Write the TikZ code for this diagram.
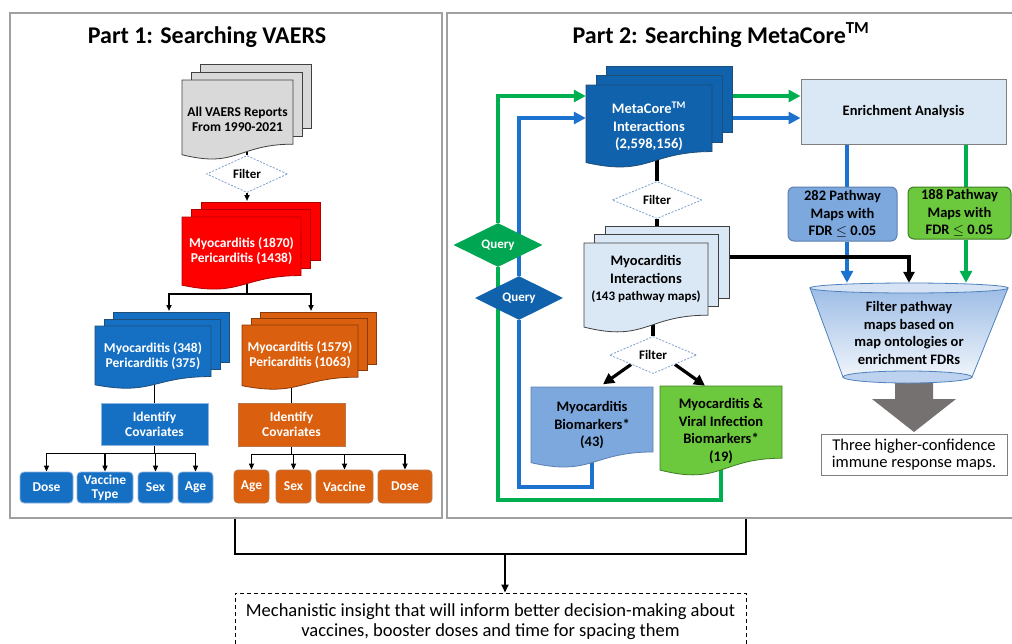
\documentclass[tikz,border=0pt]{standalone}
\usepackage{fontspec}
\setmainfont{Carlito}
\usetikzlibrary{arrows.meta,shapes.geometric,calc}
\pgfdeclarelayer{bg}
\pgfsetlayers{bg,main}
\definecolor{cgray}{HTML}{D9D9D9}
\definecolor{cgrayd}{HTML}{404040}
\definecolor{cred}{HTML}{FF0000}
\definecolor{credd}{HTML}{B00000}
\definecolor{cblue}{HTML}{1570C4}
\definecolor{cblued}{HTML}{1F4E79}
\definecolor{cbluel}{HTML}{8DB4E2}
\definecolor{corange}{HTML}{DA600F}
\definecolor{coranged}{HTML}{8A3A08}
\definecolor{corangel}{HTML}{B8764A}
\definecolor{cmc}{HTML}{0F62AB}
\definecolor{clb}{HTML}{DAE7F5}
\definecolor{cbm}{HTML}{7CA8DD}
\definecolor{cbmd}{HTML}{5B7FAF}
\definecolor{cvb}{HTML}{6CC83C}
\definecolor{cvbd}{HTML}{3E7D26}
\definecolor{cgl}{HTML}{00B050}
\definecolor{cbl}{HTML}{1C72CF}
\definecolor{cgq}{HTML}{00A651}
\definecolor{cfilt}{HTML}{7F9FCC}
\definecolor{cpanel}{HTML}{A0A0A0}
\definecolor{cbox}{HTML}{7F7F7F}
\definecolor{cfunA}{HTML}{9DBDE6}
\definecolor{cfunB}{HTML}{F0F5FB}
\definecolor{cfunE}{HTML}{D5E3F4}
\definecolor{cfunL}{HTML}{4F81BD}
\definecolor{cfunBot}{HTML}{BCD2EE}
\definecolor{cgarrow}{HTML}{767171}
\newcommand{\mydoc}[6]{\filldraw[fill=#5,draw=#6,line width=0.8pt] (#1,#2) -- ({#1+#3},#2) -- ({#1+#3},{#2+0.802*#4}) .. controls ({#1+0.5*#3},{#2+0.802*#4}) and ({#1+0.5*#3},{#2+1.1075*#4}) .. (#1,{#2+0.934*#4}) -- cycle;}
\newcommand{\mystack}[8]{%
 \filldraw[fill=#7,draw=#8,line width=0.8pt] ({#1+2*#5},{#2-2*#6}) rectangle ++(#3,{0.8*#4});
 \filldraw[fill=#7,draw=#8,line width=0.8pt] ({#1+#5},{#2-#6}) rectangle ++(#3,{0.8*#4});
 \mydoc{#1}{#2}{#3}{#4}{#7}{#8}}
\begin{document}
\begin{tikzpicture}[x=1pt,y=-1pt,
 lbl/.style={inner sep=0pt, align=center, font=\fontsize{13.5}{15}\selectfont\bfseries},
 rbl/.style={inner sep=0pt, align=center, font=\fontsize{14.5}{17.5}\selectfont\bfseries},
 titl/.style={inner sep=0pt, font=\fontsize{24}{28}\selectfont\bfseries},
 panel/.style={draw=cpanel, line width=1.5pt, inner sep=0pt},
 filt/.style={diamond, draw=cfilt, dashed, dash pattern=on 2pt off 1.5pt, fill=white, line width=0.8pt, inner sep=0pt, font=\fontsize{13}{15}\selectfont\bfseries},
 query/.style={diamond, inner sep=0pt, text=white, font=\fontsize{13}{15}\selectfont\bfseries},
 bbox/.style={lbl, fill=cblue, draw=cbluel, line width=0.8pt, text=white},
 obox/.style={lbl, fill=corange, draw=corangel, line width=0.8pt, text=white},
 kthin/.style={draw=black, line width=1.5pt},
 kthinarr/.style={kthin, -{Triangle[length=6pt,width=5pt]}},
 kline/.style={draw=black, line width=3.2pt},
 karr/.style={kline, -{Triangle[length=11pt,width=11pt]}},
 gline/.style={draw=cgl, line width=3.2pt},
 garr/.style={gline, -{Triangle[length=12pt,width=12pt]}},
 bline/.style={draw=cbl, line width=3.2pt},
 barr/.style={bline, -{Triangle[length=12pt,width=12pt]}},
 plainbox/.style={draw=cbox, line width=1pt, inner sep=0pt, align=center, font=\fontsize{16.5}{17.5}\selectfont}
]
\useasboundingbox (0,0) rectangle (1012,643);
\begin{pgfonlayer}{bg}\fill[white] (0,0) rectangle (1012,643);\end{pgfonlayer}
% panels and titles
\node[panel, minimum width=432pt, minimum height=505pt] (p1) at (226,265.5) {};
\node[panel, minimum width=593pt, minimum height=505pt] (p2) at (743.5,265.5) {};
\node[titl, anchor=base] (t1) at (207,43) {Part 1: Searching VAERS};
\node[titl, anchor=base] (t2) at (721,43) {Part 2: Searching MetaCore\textsuperscript{TM}};
% ---------- Part 1 ----------
\mystack{182}{80}{111}{80}{9}{8}{cgray}{cgrayd}
\node[lbl, minimum width=111pt, minimum height=80pt] (gray) at (237.5,119) {All VAERS Reports\\From 1990-2021};
\node[filt, minimum width=81pt, minimum height=31pt] (f1) at (247,174) {Filter};
\mystack{182}{217}{119}{73}{9.5}{7.5}{cred}{credd}
\node[lbl, text=white, minimum width=119pt, minimum height=73pt] (red) at (241.5,251.5) {Myocarditis (1870)\\Pericarditis (1438)};
\mystack{95}{326}{116}{63}{9}{7}{cblue}{cblued}
\node[lbl, text=white, minimum width=116pt, minimum height=63pt] (bdoc) at (153,356) {Myocarditis (348)\\Pericarditis (375)};
\mystack{242}{325}{116}{65}{9}{6.5}{corange}{coranged}
\node[lbl, text=white, minimum width=116pt, minimum height=65pt] (odoc) at (300,355.5) {Myocarditis (1579)\\Pericarditis (1063)};
\node[bbox, minimum width=107pt, minimum height=42pt] (bcov) at (154.5,424) {Identify\\Covariates};
\node[obox, minimum width=107pt, minimum height=43pt] (ocov) at (291.5,424.5) {Identify\\Covariates};
\node[bbox, rounded corners=4pt, minimum width=53pt, minimum height=31pt] (d1) at (46.5,487.5) {Dose};
\node[bbox, rounded corners=4pt, minimum width=56pt, minimum height=31pt, font=\fontsize{13.5}{14}\selectfont\bfseries] (d2) at (105,487.5) {Vaccine\\Type};
\node[bbox, rounded corners=4pt, minimum width=35pt, minimum height=31pt] (d3) at (155.5,487.5) {Sex};
\node[bbox, rounded corners=4pt, minimum width=35pt, minimum height=31pt] (d4) at (195.5,487.5) {Age};
\node[obox, rounded corners=4pt, minimum width=35pt, minimum height=33pt] (o1) at (251.5,486.5) {Age};
\node[obox, rounded corners=4pt, minimum width=35pt, minimum height=33pt] (o2) at (293.5,486.5) {Sex};
\node[obox, rounded corners=4pt, minimum width=57pt, minimum height=33pt] (o3) at (344.5,486.5) {Vaccine};
\node[obox, rounded corners=4pt, minimum width=54pt, minimum height=33pt] (o4) at (405,486.5) {Dose};
\coordinate (redtop) at (247,201);
\coordinate (sp) at (247,294);
\coordinate (bltop) at (169,311);
\coordinate (ortop) at (311,311);
% ---------- Part 2 ----------
\mystack{586}{85}{126}{83}{10}{9.5}{cmc}{cblued}
\node[rbl, text=white, minimum width=126pt, minimum height=83pt] (mc) at (649,126.5) {MetaCore\textsuperscript{TM}\\Interactions\\(2,598,156)};
\node[filt, minimum width=90pt, minimum height=34pt] (f2) at (657,200) {Filter};
\mystack{584}{243}{124}{90}{10.5}{8.5}{clb}{cgrayd}
\node[rbl, minimum width=124pt, minimum height=72pt] (mi) at (646,279) {Myocarditis\\Interactions\\{\fontsize{13}{15}\selectfont (143 pathway maps)}};
\node[filt, minimum width=87pt, minimum height=36pt] (f3) at (653,355) {Filter};
\mydoc{531}{387}{122}{81}{cbm}{cbmd}
\node[rbl, minimum width=122pt, minimum height=81pt] (bm) at (592,425) {Myocarditis\\Biomarkers*\\(43)};
\mydoc{660}{386}{122}{90}{cvb}{cvbd}
\node[rbl, minimum width=122pt, minimum height=90pt] (vb) at (721,431) {Myocarditis \&\\Viral Infection\\Biomarkers*\\(19)};
\node[query, fill=cgq, minimum width=89pt, minimum height=34pt] (gq) at (498,245) {Query};
\node[query, fill=cmc, minimum width=88pt, minimum height=34pt] (bq) at (519,298) {Query};
\node[rbl, fill=clb, draw=cbox, line width=1pt, minimum width=205pt, minimum height=65pt] (en) at (903.5,111.5) {Enrichment Analysis};
\node[rbl, fill=cbm, draw=cbmd, line width=1pt, rounded corners=6pt, minimum width=109pt, minimum height=54pt] (p282) at (842.5,214) {282 Pathway\\Maps with\\FDR $\leq$ 0.05};
\node[rbl, fill=cvb, draw=cvbd, line width=1pt, rounded corners=6pt, minimum width=103pt, minimum height=52pt] (p188) at (959.5,213) {188 Pathway\\Maps with\\FDR $\leq$ 0.05};
% funnel
\path[top color=cfunA, bottom color=cfunB, draw=cfunL, line width=0.8pt] (810,288) -- (1008,288) -- (972,377) -- (843,377) -- cycle;
\filldraw[fill=cfunE, draw=cfunL, line width=0.8pt] (909,288) ellipse [x radius=99, y radius=5];
\filldraw[fill=cfunBot, draw=cfunL, line width=0.8pt] (907.5,377) ellipse [x radius=64.5, y radius=6];
\node[rbl, minimum width=120pt, minimum height=100pt] (fun) at (909,333) {Filter pathway\\maps based on\\map ontologies or\\enrichment FDRs};
\node[plainbox, fill=white, minimum width=186pt, minimum height=41pt] (three) at (914,454.5) {Three higher-confidence\\immune response maps.};
% bottom
\node[plainbox, draw=black, dashed, dash pattern=on 4pt off 3pt, line width=1pt, minimum width=511pt, minimum height=58pt, font=\fontsize{18.5}{20}\selectfont] (mech) at (490.5,622) {Mechanistic insight that will inform better decision-making about\\vaccines, booster doses and time for spacing them};
\coordinate (yg) at (0,96);
\coordinate (yb) at (0,118);
\coordinate (ygb) at (0,500);
\coordinate (ybb) at (0,487);
\coordinate (xb) at (847,0);
\coordinate (xg) at (966,0);
\coordinate (bl) at (235,554);
\coordinate (br) at (746,554);
\coordinate (ba) at (505,554);
% ---------- connectors ----------
\begin{pgfonlayer}{bg}
 \draw[kthin] (f1.north |- gray.center) -- (f1.north);
 \draw[kthinarr] (f1.south) -- (redtop);
 \draw[kthin] (sp |- red.center) -- (sp);
 \draw[kthinarr] (sp) -| (bltop);
 \draw[kthinarr] (sp) -| (ortop);
 \draw[kthin] (bcov.north |- bdoc.center) -- (bcov.north);
 \draw[kthin] (ocov.north |- odoc.center) -- (ocov.north);
 \foreach \c in {d1,d2,d3,d4} \draw[kthinarr] (bcov.south) -- ++(0,8) -| (\c.north);
 \foreach \c in {o1,o2,o3,o4} \draw[kthinarr] (ocov.south) -- ++(0,8) -| (\c.north);
 % right
 \draw[garr] (gq.north) |- (mc.west |- yg);
 \draw[barr] (bq.north) |- (mc.west |- yb);
 \draw[gline] (vb.center) |- (gq.south |- ygb) -- (gq.south);
 \draw[bline] (bm.center) |- (bq.south |- ybb) -- (bq.south);
 \draw[garr] (mc.center |- yg) -- (en.west |- yg);
 \draw[barr] (mc.center |- yb) -- (en.west |- yb);
 \draw[bline] (en.south -| xb) -- (p282.north -| xb);
 \draw[barr] (p282.south -| xb) -- (fun.north -| xb);
 \draw[gline] (en.south -| xg) -- (p188.north -| xg);
 \draw[garr] (p188.south -| xg) -- (fun.north -| xg);
 \draw[karr] ([yshift=22pt]mi.center) -| (fun.north);
 \draw[kline] (mc.center -| f2.north) -- (f2.north);
 \draw[kline] (f2.south) -- (f2.south |- mi.north);
 \draw[kline] (mi.center -| f3.north) -- (f3.north);
 \draw[karr] (f3.south west) -- ([xshift=11pt]bm.north);
 \draw[karr] (f3.south east) -- ([xshift=-16pt]vb.north);
 \fill[cgarrow] (895,381) -- (933,381) -- (933,399) -- (956,399) -- (914,432) -- (872,399) -- (895,399) -- cycle;
 % bottom bracket
 \draw[draw=black, line width=1.8pt] (bl |- p1.south) -- (bl) -- (br) -- (br |- p2.south);
 \draw[draw=black, line width=1.8pt, -{Triangle[length=8pt,width=7pt]}] (ba) -- (ba |- mech.north);
\end{pgfonlayer}
\end{tikzpicture}
\end{document}
